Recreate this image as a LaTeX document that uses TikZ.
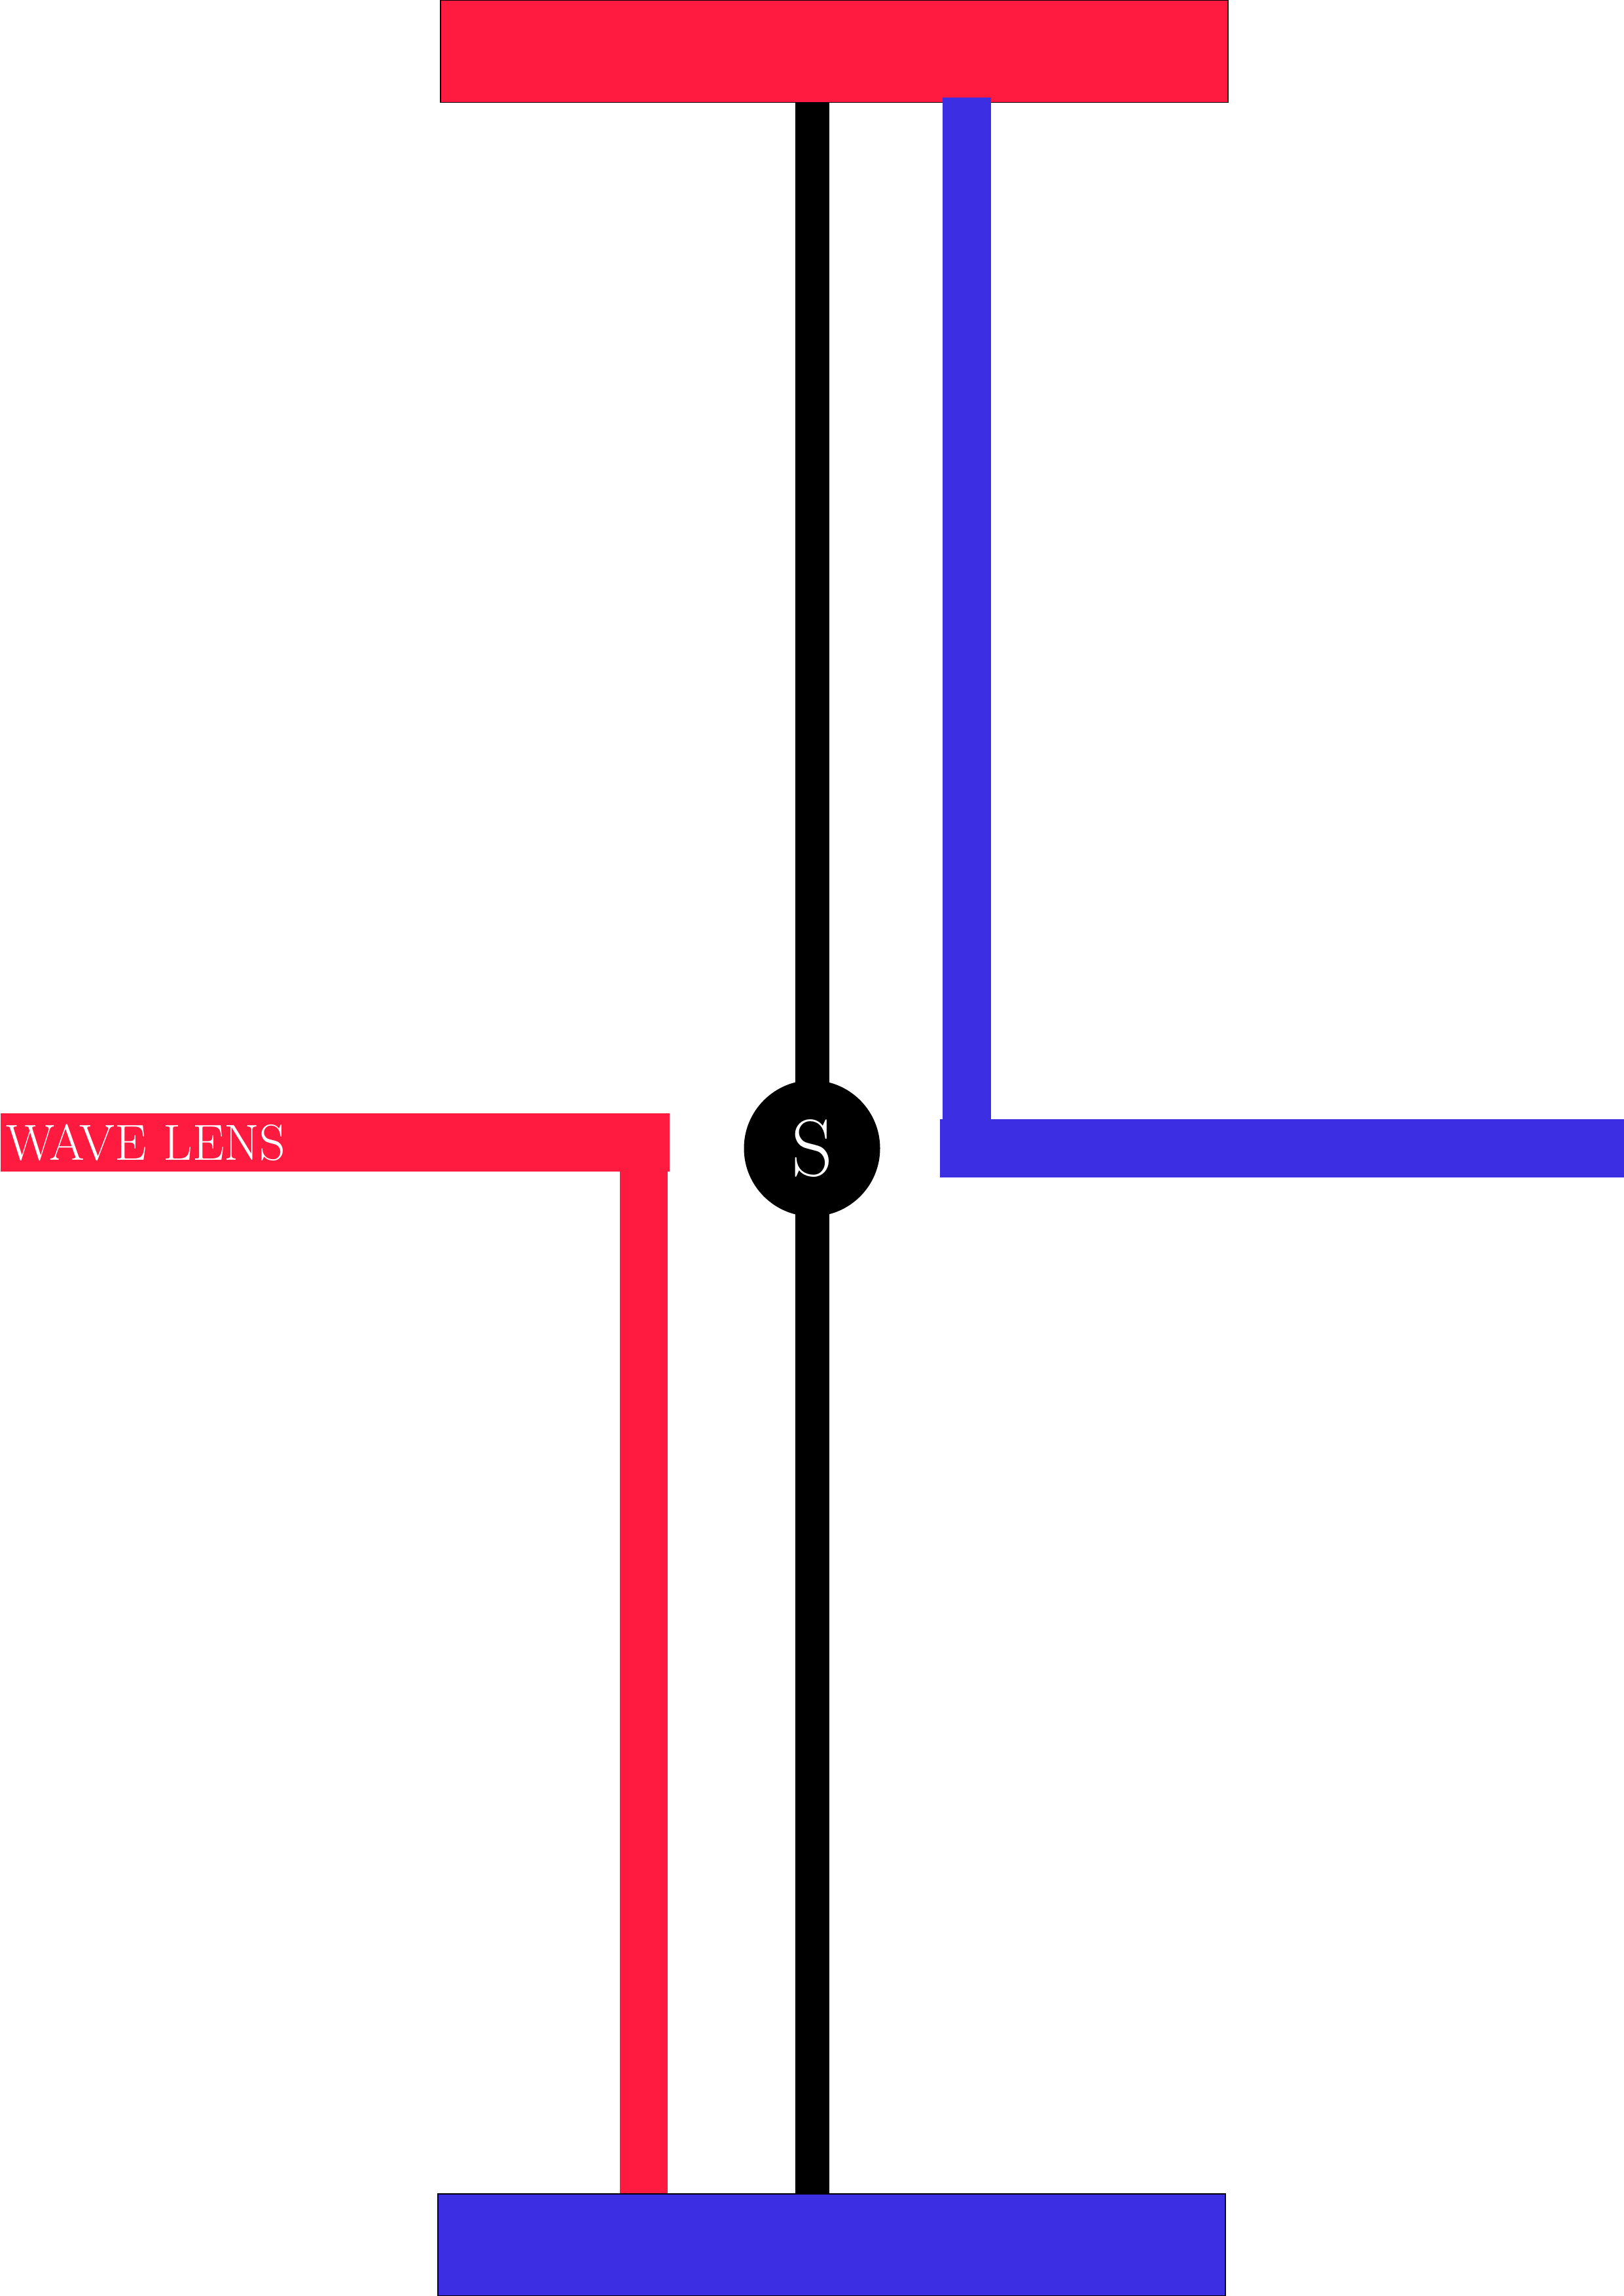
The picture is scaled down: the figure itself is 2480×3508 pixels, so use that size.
\documentclass[tikz,border=0pt]{standalone}
\usepackage{fontspec}
\setmainfont{Latin Modern Roman}
\usetikzlibrary{calc}
\definecolor{lensred}{RGB}{255,26,64}
\definecolor{lensblue}{RGB}{60,46,227}
\begin{document}
\begin{tikzpicture}[x=0.24pt,y=-0.24pt,
  plate/.style={draw=black,line width=0.3pt,minimum width=288.72pt,minimum height=37.44pt,inner sep=0pt},
  spine/.style={line width=12.48pt,black},
  redwire/.style={line width=17.52pt,lensred},
  bluewire/.style={line width=17.76pt,lensblue},
  lenslabel/.style={fill=lensred,text=white,inner ysep=0pt,inner xsep=9*0.24pt,text width=1004*0.24pt,minimum height=21.36pt,align=left,anchor=west,font=\fontsize{18.6}{20}\selectfont},
  bluebar/.style={fill=lensblue,minimum width=250.8pt,minimum height=21.36pt,inner sep=0pt},
  hub/.style={circle,fill=black,text=white,minimum size=49.92pt,inner sep=0pt,font=\fontsize{29.5}{30}\selectfont}]
\useasboundingbox (0,0) rectangle (2480,3508);
% plates
\node[plate,fill=lensred] (top) at (1274.5,78.5) {};
\node[plate,fill=lensblue] (bot) at (1270.5,3430) {};
% guide coordinates
\coordinate (sc) at (1240.5,0);
\coordinate (rc) at (983.5,0);
\coordinate (bc) at (1476.5,0);
% hub
\coordinate (hubc) at (1240.5,1754.5);
\draw[spine] (top.south -| sc) -- (bot.north -| sc);
\node[hub] (S) at (hubc) {S};
% label and red wire
\node[lenslabel] (lens) at (0,1745.5) {WAVE LENS};
\draw[redwire] ([yshift=0.5pt]lens.south -| rc) -- (bot.north -| rc);
% blue bar and blue wire
\node[bluebar,anchor=west] (bar) at (1435,1754.5) {};
\draw[bluewire] ([yshift=1.92pt]top.south -| bc) -- ([yshift=-0.5pt]bar.north -| bc);
\end{tikzpicture}
\end{document}
